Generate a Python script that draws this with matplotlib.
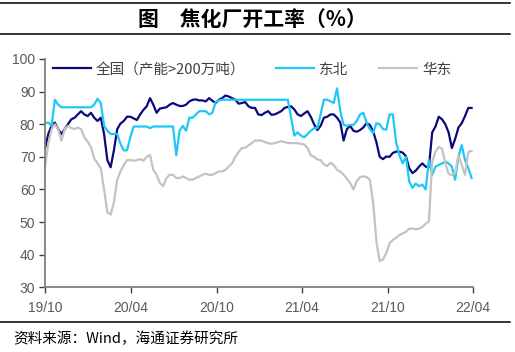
import matplotlib
matplotlib.use("Agg")
import matplotlib.pyplot as plt
import pandas as pd
from matplotlib.lines import Line2D

plt.rcParams['font.family'] = ['Liberation Sans', 'Noto Sans CJK SC', 'DejaVu Sans']

start_date = '2019-10-01'
n_weeks = 131

national = [72.5, 77, 79.5, 80.5, 78.5, 77, 78.5, 80, 81.5, 82,
            83, 84, 83, 82.5, 83.5, 82, 81, 82, 77, 69,
            66.8, 72, 78.5, 80.2, 81, 82.3, 82.3, 81.8, 81.3, 83,
            84.4, 85.5, 88, 86, 83.5, 84.8, 85, 85.2, 86, 86.5,
            86, 85.6, 85.6, 86, 87, 87.5, 87.6, 87.3, 87.3, 87,
            88, 87.2, 86.5, 87.5, 88, 88.8, 88.5, 88, 87.5, 86.3,
            86.5, 86.8, 85.5, 85, 85, 83, 82.8, 83.5, 84, 82.9,
            83, 83.5, 84, 85, 85.3, 85.5, 84.5, 83, 82.5, 83.3,
            84, 82.3, 80, 78.2, 79.5, 82, 82.3, 83, 83, 82,
            80.5, 75, 78.5, 79.5, 78, 77.7, 78.2, 79, 80.3, 79.8,
            77.8, 74.5, 70, 69.3, 70.1, 70, 71.2, 71.6, 71.6, 71.3,
            70.2, 66.5, 65, 65.8, 67, 68, 67, 66.8, 77.5, 79.3,
            82.3, 81.5, 80, 77.5, 72.7, 75.5, 79, 80.3, 82.5, 85, 85]

northeast = [80.4, 80.5, 79.5, 87.5, 86, 85.2, 85.2, 85.2, 85.2, 85.2,
             85.2, 85.2, 85.2, 85.2, 85.2, 86, 87.8, 86.5, 79.5, 78,
             77, 77, 77, 74, 72, 72, 76, 79.3, 79.3, 79.3,
             79.3, 79.3, 78.8, 79.3, 79.3, 79.3, 79.3, 79.3, 79.3, 79.3,
             70.5, 78, 79.5, 78, 82, 82, 83, 84, 84, 84,
             83, 83.5, 86.8, 87.3, 87.5, 87.5, 87.5, 87.5, 87.5, 87.5,
             87.5, 87.5, 87.5, 87.5, 87.5, 87.5, 87.5, 87.5, 87.5, 87.5,
             87.5, 87.5, 87.5, 87.5, 87.5, 82, 76.5, 77.5, 76.5, 76,
             77, 78, 78.8, 78.8, 83, 87.5, 87.5, 87, 86.5, 91,
             84, 79.8, 79.5, 79.8, 79.8, 81, 83, 83.5, 80.5, 78.5,
             77.3, 80.3, 80, 78.5, 78.3, 83, 83, 74.5, 70.5, 68,
             70, 62.4, 60.5, 61.8, 61, 61.5, 60, 69, 64.5, 67,
             67.5, 68, 68.5, 68, 67, 63, 70, 73.6, 69, 66.6, 63.5]

east = [67, 74, 78.5, 80, 78.5, 75, 78.5, 79.5, 78.8, 78.5,
        79, 78.5, 76, 74.7, 73, 69.5, 68, 66.5, 60, 53,
        52.3, 56, 63, 65.5, 67.5, 69, 69, 68.8, 69, 69.3,
        68.8, 70, 70.6, 66, 64.5, 62, 61, 63.5, 64.5, 64.5,
        63.5, 63.5, 64, 63.5, 63, 63, 63.5, 64, 64.5, 64.8,
        64.5, 64.5, 65, 65.5, 65.5, 66, 67, 68, 70, 71.5,
        72.7, 72.8, 73.5, 74.2, 75, 75, 75, 74.5, 74.2, 74,
        74.2, 74.5, 74.8, 74.5, 74.3, 74.2, 74.2, 74.2, 74, 73.8,
        72.7, 70.5, 70, 69.2, 69, 67.7, 67.2, 68.2, 67.5, 66,
        65.5, 64.5, 63.3, 62, 60, 62.5, 63.8, 64, 63.8, 63,
        56, 44, 38, 38.5, 40.5, 43.5, 44.5, 45.2, 46, 46.5,
        47, 48, 48, 47.8, 48, 48.5, 49.5, 50.2, 68.5, 71.6,
        73, 72.5, 68, 64.8, 64.4, 65, 70.5, 67.5, 64.5, 71.5, 71.8]

series_names = ['全国（产能>200万吨）', '东北', '华东']
tick_dates = ['2019-10-01', '2020-04-01', '2020-10-01', '2021-04-01', '2021-10-01', '2022-04-01']
tick_labels = ['19/10', '20/04', '20/10', '21/04', '21/10', '22/04']
y_ticks = [30, 40, 50, 60, 70, 80, 90, 100]

dates = pd.date_range(start_date, periods=n_weeks, freq='7D')

fig = plt.figure(figsize=(5.15, 3.52), dpi=100)
ax = fig.add_axes([0.0874, 0.1838, 0.8310, 0.6486])

colors = ['#0A0A7D', '#1EC8F5', '#C3C3C3']
for vals, name, c in zip([national, northeast, east], series_names, colors):
    ax.plot(dates, vals, color=c, lw=1.6, label=name, solid_joinstyle='round')

ax.set_xlim(pd.Timestamp(tick_dates[0]), pd.Timestamp(tick_dates[-1]))
ax.set_ylim(30, 100)
ax.set_yticks(y_ticks)
ax.set_xticks([pd.Timestamp(d) for d in tick_dates])
ax.set_xticklabels(tick_labels)

for s in ['top', 'right']:
    ax.spines[s].set_visible(False)
for s in ['left', 'bottom']:
    ax.spines[s].set_color('#808080')
    ax.spines[s].set_linewidth(1.3)
ax.tick_params(axis='both', colors='#404040', labelcolor='#595959', labelsize=10,
               length=4, width=1, direction='out')
ax.tick_params(axis='x', pad=6)
ax.tick_params(axis='y', pad=3)

leg = ax.legend(loc='upper left', bbox_to_anchor=(0.005, 1.01), ncol=3, frameon=False,
                prop={'family': ['Noto Sans CJK SC'], 'size': 10.5},
                handlelength=2.6, handletextpad=0.35, columnspacing=2.1,
                borderaxespad=0.0)
for t in leg.get_texts():
    t.set_color('#404040')

# title with rules
fig.add_artist(Line2D([0.0, 0.99], [0.992, 0.992], color='black', lw=1.1))
fig.add_artist(Line2D([0.0, 0.99], [0.904, 0.904], color='black', lw=1.1))
fig.text(0.49, 0.944, '图\u3000焦化厂开工率（%）', ha='center', va='center',
         fontsize=15, fontweight='bold', family=['Noto Sans CJK SC'])

fig.add_artist(Line2D([0.0, 0.99], [0.085, 0.085], color='black', lw=1.1))
fig.text(0.025, 0.038, '资料来源：Wind，海通证券研究所', ha='left', va='center',
         fontsize=10.5, family=['Noto Sans CJK SC'], color='black')

fig.savefig('out.png', dpi=100)
